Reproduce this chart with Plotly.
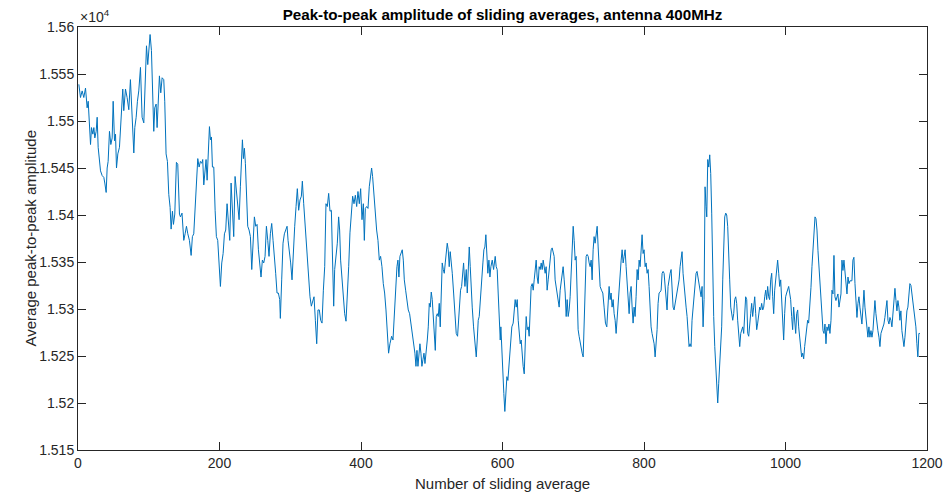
import plotly.graph_objects as go

# ---- data (x = number of sliding average, amplitude in raw units) ----
x_seg1 = [1.2,3.5,5.9,8.2,10.6,12.9,14.4,16.2,17.7,19.1,21,22.4,23.8,25.7,27.1,28.5,30.4,31.8,34.1,36.5,37.9,39.8,41.2,42.6,44.5,46.4,48.3,49.7,51.6,53,54.4,56.3,58.6,61,63.3,64.7,67.1,69.4,71.8,74.1,75.6,77.4,78.9,80.3,82.2,84,85.9,88.3,90.6,93,95.3,96.8,98.6,100,101.9,103.8,105.7,107.1,108.5,110.4,111.8,113.2,115.1,117,118.9,121.2,122.6,124.5,126.4,128.3,130.2,131.6,133.5,134.9,136.8,139.1,141,143.4]
y_seg1 = [15539,15525,15532,15525,15535,15514,15521,15497,15475,15493,15486,15493,15482,15489,15504,15472,15461,15447,15442,15440,15434,15424,15450,15457,15489,15475,15482,15521,15479,15486,15450,15465,15472,15511,15534,15511,15534,15525,15512,15544,15518,15497,15466,15493,15504,15521,15532,15557,15504,15498,15557,15580,15560,15571,15592,15575,15525,15489,15514,15518,15493,15511,15548,15530,15546,15544,15521,15465,15457,15422,15408,15385,15404,15390,15401,15456,15454,15401]

x_seg2 = [144.8,147,149.5,151.4,153.3,155.2,157.5,159.9,161.7,163.6,165.5,167.4,169.3,171.2,173,174.9,176.3,177.8,179.6,181,182.5,184.3,185.8,187.2,188.6,190,191.9,193.8,195.6,197.5,199.4,201.3,203.2,205.1,207,208.8,210.7,212.6,214.5,216.4,218.2,220.1,222,223.9,225.8,227.7,229.5,231,232.4,233.8,235.2,236.6,238,239.9,241.8,243.7,245.6,247.4,249.3,251.2,253.1,255,256.9,258.7,260.6,262.5,264.4,266.3,268.2,270,271.9,273.8,275.7,277.6,279.4,281.3,283.2,285.1,286,287.9,289.8,291.7]
y_seg2 = [15398,15402,15373,15380,15388,15380,15373,15357,15377,15380,15405,15434,15460,15451,15457,15455,15459,15432,15451,15459,15437,15480,15494,15480,15483,15451,15451,15405,15377,15373,15352,15324,15349,15359,15380,15384,15412,15388,15373,15434,15398,15377,15441,15427,15409,15395,15430,15462,15480,15460,15471,15455,15423,15388,15384,15377,15342,15380,15398,15388,15390,15363,15345,15334,15352,15349,15356,15388,15373,15356,15380,15391,15373,15359,15338,15317,15317,15310,15290,15331,15370,15380]

x_seg3 = [293.1,295.5,296.9,298.7,300.6,302.5,304.4,306.3,308.2,310,311.9,313.8,315.7,317.1,319,320.4,322.3,324.2,326.1,327.9,329.8,331.7,333.6,335.5,337.4,339.2,341.1,343,344.9,346.8,348.7,350.5,352.4,354.3,356.2,358.1,360,361.4,362.8,364.7,366.5,368.4,369.8,371.2,373.1,375,376.9,378.8,380.7,382.6,384.4,386.3,388.2,390.1,392,393.9,395.7,397.6,399.5,401.4,403.3,404.7,406.1,408,409.9,411.7,413.6,415,416.4,418.3,420.2,422.1,424,425.9,427.7,429.6,431.5,433.4,435.3,437.2,439,440.9]
y_seg3 = [15384,15388,15373,15363,15349,15331,15370,15388,15409,15428,15405,15416,15420,15436,15412,15395,15381,15356,15331,15313,15303,15310,15313,15288,15263,15299,15299,15288,15285,15320,15345,15412,15409,15423,15404,15405,15352,15303,15342,15359,15370,15398,15384,15352,15334,15310,15295,15287,15310,15345,15381,15398,15420,15412,15421,15409,15425,15412,15428,15395,15412,15373,15407,15409,15407,15430,15441,15450,15441,15421,15402,15384,15373,15352,15356,15345,15327,15317,15299,15271,15253,15263]

x_seg4 = [443.3,445.2,447.1,449,450.8,452.2,453.6,455,456.9,458.3,459.8,461.2,463.1,464.9,466.8,468.7,470.6,472.5,474.4,476.2,477.7,479.1,480.5,481.9,483.3,484.7,486.1,487.5,489,490.4,492.2,493.7,495.1,496.5,497.9,499.3,500.7,502.1,503.5,505,506.4,507.8,509.2,510.6,512,513.4,514.8,516.3,517.7,519.1,520.5,521.9,523.3,524.7,526.1,527.6,529,530.9,532.7,534.6,536.5,537.9,539.3,540.7,542.2,543.6,545,546.9,548.8,550.2,551.6,553,554.4,555.8,557.2,559.1,561,562.9,564.3,565.7,567.1,568.5,570.4,572.3,573.7,575.1,576.5,577.9,579.3,580.8,582.2,583.6,585.5,587.4]
y_seg4 = [15271,15267,15295,15313,15345,15352,15334,15356,15361,15363,15352,15331,15320,15306,15299,15295,15285,15274,15260,15253,15239,15256,15239,15253,15263,15253,15239,15246,15253,15242,15253,15267,15281,15306,15302,15318,15310,15292,15274,15256,15292,15295,15292,15306,15281,15313,15349,15342,15338,15349,15359,15370,15363,15345,15361,15352,15338,15317,15295,15274,15271,15288,15306,15320,15324,15338,15349,15324,15342,15317,15356,15366,15345,15320,15302,15281,15263,15249,15267,15288,15292,15310,15331,15349,15363,15366,15379,15359,15338,15352,15334,15345,15352,15342]

x_seg5 = [589.7,591.1,592.5,593.9,595.3,596.8,597.7,599.1,600.5,601.9,603.3,604.8,606.2,607.6,609.5,611.4,613.2,615.1,616.5,617.9,619.4,620.8,622.2,623.6,625,626.4,627.8,629.2,630.7,632.1,633.5,634.9,636.3,637.7,639.1,640.5,642,643.4,644.8,646.2,647.6,649,650.4,651.8,653.3,654.7,656.1,657.5,658.9,660.3,661.7,663.1,664.6,666,667.4,668.8,670.2,671.6,673,674.4,675.9,677.3,678.7,680.1,681.5,682.9,684.3,685.7,687.2,688.6,690,691.4,692.8,694.2,695.6,697,698.5,699.9,701.3,702.7,704.1,705.5,706.9,708.3,709.8,711.2,712.6,714,715.4,716.8,718.2,719.6,721.1,722.5,723.9,725.3,726.7,728.1,729.5,730.9,732.4,733.8,735.2,736.6]
y_seg5 = [15356,15345,15342,15317,15288,15267,15281,15253,15235,15210,15191,15217,15228,15224,15246,15271,15281,15285,15295,15310,15302,15310,15288,15278,15263,15267,15246,15239,15231,15256,15292,15278,15281,15271,15310,15324,15327,15320,15331,15345,15352,15334,15327,15345,15342,15349,15342,15352,15345,15338,15345,15320,15331,15342,15352,15363,15365,15359,15356,15331,15324,15320,15310,15302,15320,15327,15334,15345,15331,15317,15292,15310,15292,15299,15313,15338,15366,15388,15373,15352,15356,15324,15278,15271,15263,15256,15253,15249,15281,15331,15356,15358,15356,15349,15345,15352,15331,15363,15377,15370,15381,15388,15366,15345]

x_seg6 = [738,739.9,741.8,743.6,745.5,747.4,749.3,750.7,752.1,753.5,754.9,756.4,757.8,759.2,760.6,762,763.4,764.8,766.2,767.7,769.1,770.5,771.9,773.3,774.7,776.1,777.5,779,780.4,781.8,783.2,784.6,786,787.4,788.8,790.3,791.7,793.1,794.5,795.9,797.3,798.7,800.1,801.6,803,804.4,805.8,807.2,808.6,810,811.4,812.9,814.3,815.7,817.1,818.5,819.9,821.3,822.7,824.2,825.6,827,828.4,829.8,831.2,832.6,834,835.5,836.9,838.3,839.7,841.1,842.5,843.9,845.3,846.8,848.2,849.6,851,852.4,853.8,855.2,856.6,858.1,859.5,860.9,862.3,863.7,865.1,866.5,867.9,869.4,870.8,872.2,873.6,875,876.4,877.8,879.2,880.7,882.1,883.5,884.9]
y_seg6 = [15324,15320,15317,15302,15285,15281,15306,15324,15310,15317,15302,15310,15295,15288,15274,15292,15306,15327,15342,15352,15363,15349,15356,15363,15345,15331,15313,15295,15317,15324,15302,15285,15302,15292,15313,15342,15331,15352,15345,15359,15379,15359,15363,15345,15349,15338,15342,15324,15299,15281,15274,15267,15263,15249,15260,15278,15306,15317,15318,15320,15338,15340,15338,15324,15313,15299,15324,15334,15338,15342,15317,15302,15299,15306,15313,15317,15324,15331,15345,15352,15361,15338,15324,15310,15302,15292,15274,15260,15263,15260,15288,15302,15320,15324,15338,15340,15334,15324,15320,15313,15324,15281,15310]

x_seg7 = [886.3,887.7,888.7,890.1,891.5,892.9,894.3,895.7,897.1,898.5,900,901.4,902.8,904.2,905.6,907,908.4,909.8,911.3,912.7,914.1,915.5,916.9,918.3,919.7,921.1,922.6,924,925.4,926.8,928.2,929.6,931,932.4,933.9,935.3,936.7,938.1,939.5,940.9,942.3,943.7,945.2,946.6,948,949.4,950.8,952.2,953.6,955,956.5,957.9,959.3,960.7,962.1,963.5,964.9,966.3,967.8,969.2,970.6,972,973.4,974.8,976.2,977.6,979.1,980.5,981.9,983.3,984.7,986.1,987.5,988.9,990.4,991.8,993.2,994.6,996,997.4,998.8,1000.2,1001.6,1003.1,1004.5,1005.9,1007.3,1008.7,1010.1,1011.5,1012.9,1014.4,1015.8,1017.2,1018.6,1020,1021.4,1022.8,1024.3,1025.7,1027.1,1028.5,1029.9,1031.3,1032.7]
y_seg7 = [15430,15409,15398,15459,15451,15464,15444,15402,15338,15292,15260,15235,15224,15200,15221,15239,15267,15281,15331,15373,15398,15402,15400,15388,15366,15331,15302,15292,15288,15295,15310,15313,15306,15288,15274,15260,15274,15278,15281,15274,15295,15313,15310,15274,15271,15288,15295,15306,15292,15302,15313,15295,15278,15285,15295,15302,15299,15306,15299,15302,15313,15320,15310,15324,15313,15310,15331,15338,15313,15295,15320,15331,15345,15352,15338,15324,15331,15310,15292,15267,15295,15313,15317,15320,15324,15317,15310,15292,15278,15302,15288,15274,15295,15299,15281,15267,15256,15249,15253,15247,15260,15271,15281,15288,15285]

x_seg8 = [1034.6,1036,1037.4,1038.8,1040.3,1041.7,1043.1,1044.5,1045.9,1047.3,1048.7,1050.1,1051.5,1053,1054.4,1055.8,1057.2,1058.6,1060,1061.4,1062.8,1064.3,1065.7,1067.1,1068.5,1069.9,1071.3,1072.7,1074.1,1075.6,1077,1078.4,1079.8,1081.2,1082.6,1084,1085.5,1086.9,1088.3,1089.7,1091.1,1092.5,1093.9,1095.3,1096.7,1098.2,1099.6,1101,1102.4,1103.8,1105.2,1106.6,1108,1109.5,1110.9,1112.3,1113.7,1115.1,1116.5,1117.9,1119.3,1120.8,1122.2,1123.6,1125,1126.4,1127.8,1129.2,1130.6,1132.1,1133.5,1134.9,1136.3,1137.7,1139.1,1140.5,1141.9,1143.4,1144.8,1146.2,1147.6,1149,1150.4,1151.8,1153.2,1154.7,1156.1,1157.5,1158.9,1160.3,1161.7,1163.1,1164.5,1166,1167.4,1168.8,1170.2,1171.6,1173,1174.4,1175.8,1177.3,1178.7,1180.1,1181.5,1182.9,1184.3,1185.7,1187.1,1188.5,1190]
y_seg8 = [15302,15323,15345,15366,15387,15398,15396,15384,15362,15345,15327,15309,15295,15277,15274,15284,15263,15281,15277,15284,15274,15288,15320,15316,15357,15313,15309,15313,15316,15302,15313,15316,15352,15341,15352,15341,15323,15316,15334,15327,15330,15330,15330,15352,15355,15327,15306,15291,15306,15313,15302,15291,15284,15302,15320,15302,15291,15281,15270,15281,15270,15277,15270,15277,15291,15309,15295,15284,15277,15270,15260,15274,15277,15281,15284,15291,15302,15309,15288,15284,15291,15288,15281,15295,15306,15322,15309,15298,15309,15302,15288,15298,15277,15267,15260,15270,15288,15298,15302,15316,15327,15325,15316,15306,15298,15288,15281,15263,15249,15274,15274]

y_ticks = [1.515, 1.52, 1.525, 1.53, 1.535, 1.54, 1.545, 1.55, 1.555, 1.56]
y_tick_text = ["1.515", "1.52", "1.525", "1.53", "1.535", "1.54", "1.545", "1.55", "1.555", "1.56"]
x_ticks = [0, 200, 400, 600, 800, 1000, 1200]

xs, ys = [], []
for sx, sy in [(x_seg1, y_seg1), (x_seg2, y_seg2), (x_seg3, y_seg3), (x_seg4, y_seg4),
               (x_seg5, y_seg5), (x_seg6, y_seg6), (x_seg7, y_seg7), (x_seg8, y_seg8)]:
    assert len(sx) == len(sy), (len(sx), len(sy))
    xs += sx
    ys += [v / 1e4 for v in sy]

FONT = "Liberation Sans, Arial, Helvetica, sans-serif"
AX = "#262626"

fig = go.Figure(go.Scatter(x=xs, y=ys, mode="lines",
                           line=dict(color="#0072BD", width=1), hoverinfo="skip"))

axis_common = dict(showgrid=False, zeroline=False, showline=True, linecolor=AX, linewidth=1,
                   mirror="ticks", ticks="inside", ticklen=8, tickwidth=1, tickcolor=AX,
                   automargin=False,
                   tickfont=dict(family=FONT, size=14, color=AX))

fig.update_layout(
    width=943, height=494,
    margin=dict(l=78, r=16, t=27, b=44),
    paper_bgcolor="white", plot_bgcolor="white",
    showlegend=False,
    title=dict(text="Peak-to-peak amplitude of sliding averages, antenna 400MHz",
               font=dict(family=FONT, size=15.2, color="black", weight="bold"),
               x=0.5, xref="paper", xanchor="center",
               y=1 - 15 / 494, yref="container", yanchor="middle", automargin=False),
    xaxis=dict(range=[0, 1200], tickvals=x_ticks, **axis_common),
    yaxis=dict(range=[1.515, 1.56], tickvals=y_ticks, ticktext=y_tick_text, **axis_common),
    annotations=[
        dict(text="Number of sliding average", xref="paper", yref="paper",
             x=0.5, y=-34 / 423, xanchor="center", yanchor="middle", showarrow=False,
             font=dict(family=FONT, size=15, color=AX)),
        dict(text="Average peak-to-peak amplitude", xref="paper", yref="paper",
             x=-48 / 849, y=0.5, xanchor="center", yanchor="middle", showarrow=False,
             textangle=-90, font=dict(family=FONT, size=15, color=AX)),
        dict(text="×10<sup>4</sup>", xref="paper", yref="paper",
             x=0, y=1, xanchor="left", yanchor="bottom", showarrow=False,
             font=dict(family=FONT, size=14, color=AX)),
    ],
)

fig.write_html("out.html")
